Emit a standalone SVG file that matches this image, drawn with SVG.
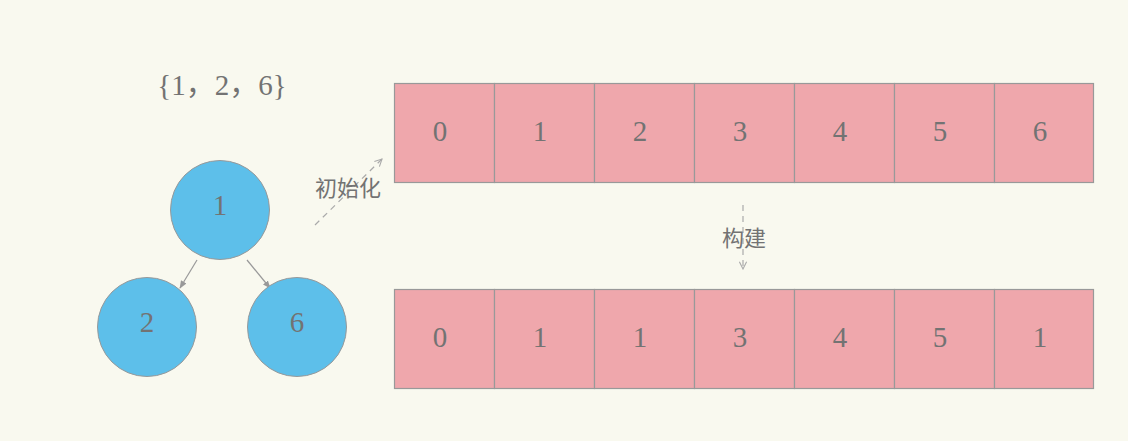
<svg xmlns="http://www.w3.org/2000/svg" width="1128" height="441" viewBox="0 0 1128 441">
<defs>
<style>
.bg{fill:#F9F9EF}
.cell{fill:#EFA7AC;stroke:#999;stroke-width:1.2}
.node{fill:#5DBFEA;stroke:#999;stroke-width:1}
.num{font-family:"Liberation Serif","Noto Sans CJK SC",serif;font-size:29px;fill:#737373;text-anchor:middle}
.lbl{font-family:"Noto Sans CJK SC",sans-serif;font-size:22px;fill:#737373;text-anchor:middle}
.edge{stroke:#999;stroke-width:1.2;fill:none}
.dash{stroke:#AAA;stroke-width:1.2;fill:none;stroke-dasharray:6 5}
</style>
<marker id="ah" viewBox="0 0 10 10" refX="9" refY="5" markerWidth="8" markerHeight="8" orient="auto" markerUnits="userSpaceOnUse">
<path d="M0,1 L10,5 L0,9 Z" fill="#999"/>
</marker>
<marker id="oh" viewBox="0 0 10 10" refX="9" refY="5" markerWidth="9" markerHeight="9" orient="auto" markerUnits="userSpaceOnUse">
<path d="M1,1 L9,5 L1,9" fill="none" stroke="#AAA" stroke-width="1.2"/>
</marker>
</defs>
<rect class="bg" x="0" y="0" width="1128" height="441"/>
<text class="num" x="222" y="95" font-size="27">{1<tspan font-family="Noto Sans CJK SC">，</tspan>2<tspan font-family="Noto Sans CJK SC">，</tspan>6}</text>
<g id="connectors">
<line class="edge" x1="197" y1="260" x2="180" y2="288" marker-end="url(#ah)"/>
<line class="edge" x1="247" y1="260" x2="270" y2="288" marker-end="url(#ah)"/>
<line class="dash" x1="315" y1="225" x2="382" y2="159" marker-end="url(#oh)"/>
<line class="dash" x1="743" y1="205" x2="743" y2="269" marker-end="url(#oh)"/>
</g>
<g id="label-init"><text class="lbl" x="348" y="196">初始化</text></g>
<g id="label-build"><text class="lbl" x="744" y="246">构建</text></g>
<g id="node1"><circle class="node" cx="220" cy="210" r="49.5"/><text class="num" x="220" y="215">1</text></g>
<g id="node2"><circle class="node" cx="147" cy="327" r="49.5"/><text class="num" x="147" y="332">2</text></g>
<g id="node6"><circle class="node" cx="297" cy="327" r="49.5"/><text class="num" x="297" y="332">6</text></g>
<g id="array-top">
<rect class="cell" x="394.5" y="83.5" width="100" height="99"/><text class="num" x="440" y="141">0</text>
<rect class="cell" x="494.5" y="83.5" width="100" height="99"/><text class="num" x="540" y="141">1</text>
<rect class="cell" x="594.5" y="83.5" width="100" height="99"/><text class="num" x="640" y="141">2</text>
<rect class="cell" x="694.5" y="83.5" width="100" height="99"/><text class="num" x="740" y="141">3</text>
<rect class="cell" x="794.5" y="83.5" width="100" height="99"/><text class="num" x="840" y="141">4</text>
<rect class="cell" x="894.5" y="83.5" width="100" height="99"/><text class="num" x="940" y="141">5</text>
<rect class="cell" x="994.5" y="83.5" width="99" height="99"/><text class="num" x="1040" y="141">6</text>
</g>
<g id="array-bottom">
<rect class="cell" x="394.5" y="289.5" width="100" height="99"/><text class="num" x="440" y="347">0</text>
<rect class="cell" x="494.5" y="289.5" width="100" height="99"/><text class="num" x="540" y="347">1</text>
<rect class="cell" x="594.5" y="289.5" width="100" height="99"/><text class="num" x="640" y="347">1</text>
<rect class="cell" x="694.5" y="289.5" width="100" height="99"/><text class="num" x="740" y="347">3</text>
<rect class="cell" x="794.5" y="289.5" width="100" height="99"/><text class="num" x="840" y="347">4</text>
<rect class="cell" x="894.5" y="289.5" width="100" height="99"/><text class="num" x="940" y="347">5</text>
<rect class="cell" x="994.5" y="289.5" width="99" height="99"/><text class="num" x="1040" y="347">1</text>
</g>
</svg>
